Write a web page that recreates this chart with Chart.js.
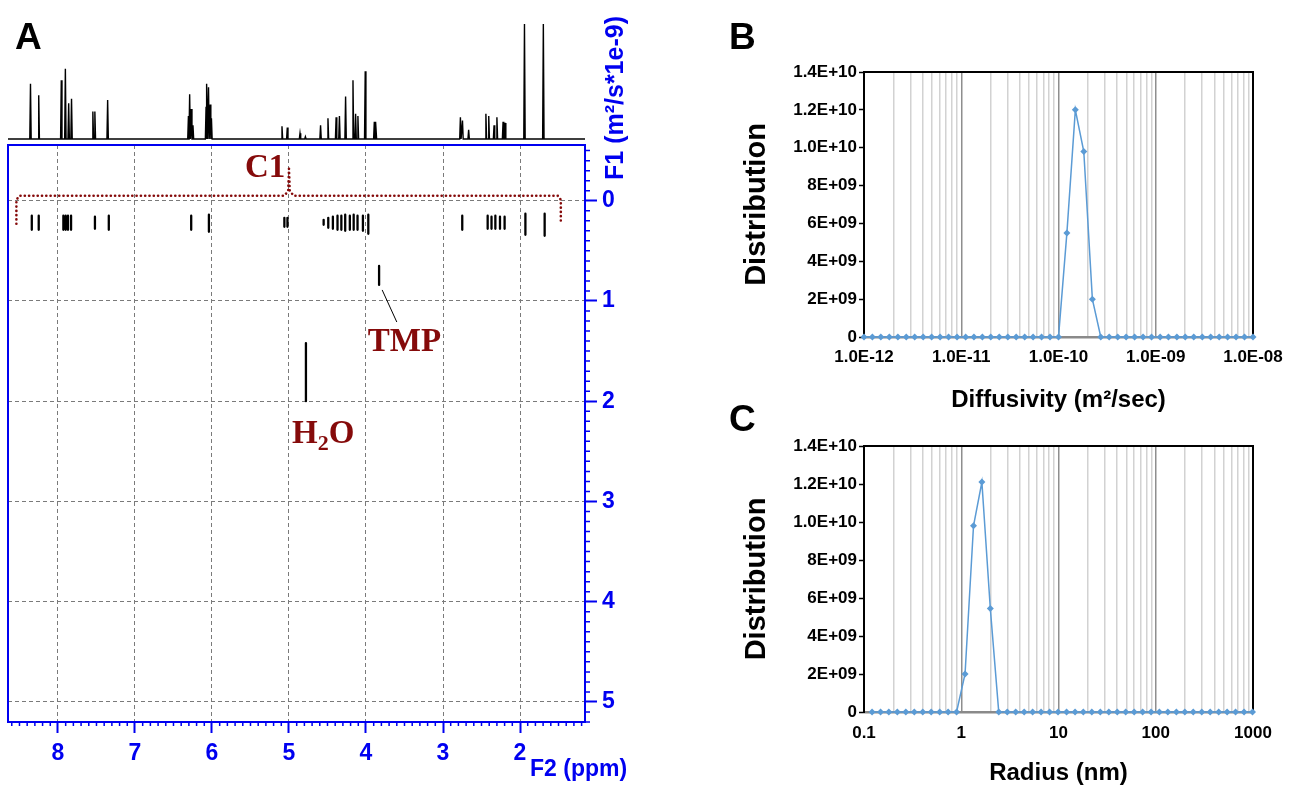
<!DOCTYPE html>
<html>
<head>
<meta charset="utf-8">
<title>DOSY spectrum, diffusivity and radius distributions</title>
<script src="https://cdn.jsdelivr.net/npm/chart.js@4.4.1/dist/chart.umd.min.js"></script>
<style>
  html, body { margin: 0; padding: 0; background: #fff; overflow: hidden; }
  #page { position: relative; width: 1294px; height: 785px; }
  canvas { position: absolute; }
  .panel { position: absolute; font: bold 37px "Liberation Sans", Arial, sans-serif; line-height: 1; color: #000; }
</style>
</head>
<body>
<div id="page">
  <canvas id="dosyChart" width="660" height="785" style="left:0;top:0"></canvas>
  <canvas id="specChart" width="660" height="145" style="left:0;top:0"></canvas>
  <canvas id="diffChart" width="564" height="380" style="left:730px;top:40px"></canvas>
  <canvas id="radiusChart" width="564" height="365" style="left:730px;top:420px"></canvas>
  <div class="panel" style="left:15px;top:18px">A</div>
  <div class="panel" style="left:729px;top:18px">B</div>
  <div class="panel" style="left:729px;top:400px">C</div>
</div>
<script>
// ---- panel A: 1H spectrum on top (ppm, relative height)
const specPpm = [8.357, 8.250, 7.957, 7.904, 7.861, 7.824, 7.547, 7.521, 7.355,
  6.306, 6.290, 6.269, 6.247, 6.077, 6.066, 6.045, 6.023, 6.007, 5.091, 5.022,
  4.857, 4.787, 4.590, 4.494, 4.388, 4.345, 4.265, 4.169, 4.135, 4.105, 4.010,
  3.892, 3.871, 2.774, 2.747, 2.667, 2.443, 2.406, 2.337, 2.300, 2.220, 2.193,
  1.942, 1.697];
const specHeight = [0.48, 0.38, 0.51, 0.61, 0.31, 0.35, 0.24, 0.24, 0.34,
  0.20, 0.39, 0.26, 0.12, 0.28, 0.48, 0.45, 0.30, 0.18, 0.11, 0.10,
  0.05, 0.02, 0.12, 0.18, 0.19, 0.20, 0.37, 0.51, 0.22, 0.20, 0.59,
  0.15, 0.15, 0.19, 0.16, 0.08, 0.22, 0.20, 0.12, 0.19, 0.15, 0.14,
  1.0, 1.0];

// ---- panel A: DOSY cross peaks (ppm, diffusion from / to, 1e-9 m2/s)
const dosyPpm = [8.34, 8.25, 7.93, 7.90, 7.87, 7.83, 7.52, 7.34, 6.27, 6.04, 5.06, 5.02,
  4.55, 4.49, 4.43, 4.37, 4.32, 4.27, 4.21, 4.16, 4.11, 4.04, 3.97,
  2.75, 2.42, 2.37, 2.32, 2.26, 2.20, 1.93, 1.68, 3.83, 4.78];
const dosyDFrom = [0.15, 0.15, 0.15, 0.15, 0.15, 0.15, 0.16, 0.15, 0.15, 0.14, 0.17, 0.17,
  0.19, 0.17, 0.16, 0.15, 0.15, 0.14, 0.15, 0.14, 0.15, 0.15, 0.14,
  0.15, 0.15, 0.16, 0.15, 0.16, 0.16, 0.13, 0.13, 0.65, 1.42];
const dosyDTo = [0.29, 0.29, 0.29, 0.29, 0.29, 0.29, 0.28, 0.29, 0.29, 0.31, 0.26, 0.26,
  0.24, 0.27, 0.28, 0.29, 0.29, 0.30, 0.29, 0.29, 0.29, 0.30, 0.33,
  0.29, 0.28, 0.28, 0.28, 0.28, 0.28, 0.34, 0.35, 0.84, 2.00];

// C1 bracket and TMP leader line (ppm, D)
const c1Ppm = [8.54, 8.54, 8.50, 5.06, 5.01, 5.00, 4.99, 4.94, 1.51, 1.47, 1.47];
const c1D   = [0.23, -0.01, -0.05, -0.05, -0.10, -0.32, -0.10, -0.05, -0.05, -0.01, 0.23];
const tmpLeaderPpm = [3.79, 3.60];
const tmpLeaderD = [0.89, 1.21];

// ---- panel B: diffusivity distribution
const diffusivity = [1.00e-12, 1.22e-12, 1.49e-12, 1.82e-12, 2.23e-12, 2.72e-12, 3.32e-12, 4.06e-12, 4.96e-12, 6.06e-12, 7.41e-12, 9.05e-12,
  1.11e-11, 1.35e-11, 1.65e-11, 2.01e-11, 2.46e-11, 3.01e-11, 3.67e-11, 4.49e-11, 5.48e-11, 6.70e-11, 8.18e-11,
  1.00e-10, 1.22e-10, 1.49e-10, 1.82e-10, 2.23e-10, 2.72e-10, 3.32e-10, 4.06e-10, 4.96e-10, 6.06e-10, 7.41e-10, 9.05e-10,
  1.11e-9, 1.35e-9, 1.65e-9, 2.01e-9, 2.46e-9, 3.01e-9, 3.67e-9, 4.49e-9, 5.48e-9, 6.70e-9, 8.18e-9, 1.00e-8];
const diffDist = [0, 0, 0, 0, 0, 0, 0, 0, 0, 0, 0, 0, 0, 0, 0, 0, 0, 0, 0, 0, 0, 0, 0, 0,
  5.5e9, 1.2e10, 9.8e9, 2.0e9,
  0, 0, 0, 0, 0, 0, 0, 0, 0, 0, 0, 0, 0, 0, 0, 0, 0, 0, 0];

// ---- panel C: radius distribution
const radius = [0.121, 0.148, 0.180, 0.220, 0.269, 0.329, 0.402, 0.491, 0.600, 0.733, 0.895,
  1.094, 1.337, 1.63, 1.99, 2.43, 2.97, 3.63, 4.44, 5.42, 6.62, 8.09, 9.89,
  12.1, 14.8, 18.0, 22.0, 26.9, 32.9, 40.2, 49.1, 60.0, 73.3, 89.5,
  109, 133, 163, 199, 243, 297, 363, 444, 542, 662, 809, 988];
const radiusDist = [0, 0, 0, 0, 0, 0, 0, 0, 0, 0, 0,
  2.0e9, 9.8e9, 1.21e10, 5.45e9,
  0, 0, 0, 0, 0, 0, 0, 0, 0, 0, 0, 0, 0, 0, 0, 0, 0, 0, 0, 0, 0, 0, 0, 0, 0, 0, 0, 0, 0, 0, 0];

// tick labels
const distTickLabels = ["0", "2E+09", "4E+09", "6E+09", "8E+09", "1.0E+10", "1.2E+10", "1.4E+10"];
const diffTickLabels = ["1.0E-12", "1.0E-11", "1.0E-10", "1.0E-09", "1.0E-08"];
const radiusTickLabels = ["0.1", "1", "10", "100", "1000"];

const BLUE = "#0000f0";
const RED = "#850a0a";
const sans = '"Liberation Sans", Arial, sans-serif';
const serif = '"Liberation Serif", "Times New Roman", serif';

const isWhole = (v) => Math.abs(v - Math.round(v)) < 1e-6;
const isDecade = (v) => isWhole(Math.log10(v));

// ticks every 0.1, labels only on whole numbers
const ppmTicks = [];
for (let i = 12; i <= 86; i++) ppmTicks.push(i / 10);
const dTicks = [];
for (let i = -5; i <= 52; i++) dTicks.push(i / 10);

function logTicks(fromExp, toExp) {
  const out = [];
  for (let e = fromExp; e < toExp; e++) {
    for (let m = 1; m <= 9; m++) out.push(m * Math.pow(10, e));
  }
  out.push(Math.pow(10, toExp));
  return out;
}

const noInteraction = { legend: { display: false }, tooltip: { enabled: false } };

// ---------------- panel A: 1D spectrum
const specPoints = [{ x: 8.649, y: 0 }];
specPpm.forEach((p, i) => {
  specPoints.push({ x: p + 0.009, y: 0 }, { x: p, y: specHeight[i] }, { x: p - 0.009, y: 0 });
});
specPoints.push({ x: 1.156, y: 0 });

new Chart(document.getElementById("specChart"), {
  type: "scatter",
  data: {
    datasets: [{ data: specPoints, showLine: true, borderColor: "#000", borderWidth: 1.4, pointRadius: 0, clip: false }]
  },
  options: {
    animation: false, responsive: false, events: [],
    layout: { padding: { left: 8, right: 75, top: 24, bottom: 6 } },
    plugins: noInteraction,
    scales: {
      x: { type: "linear", reverse: true, min: 1.156, max: 8.649, display: false },
      y: { type: "linear", min: 0, max: 1, display: false }
    }
  }
});

// ---------------- panel A: DOSY map
const blobPoints = [];
dosyPpm.forEach((p, i) => {
  blobPoints.push({ x: p, y: dosyDFrom[i] }, { x: p, y: dosyDTo[i] }, { x: p, y: null });
});
const c1Points = c1Ppm.map((p, i) => ({ x: p, y: c1D[i] }));
const tmpLeader = tmpLeaderPpm.map((p, i) => ({ x: p, y: tmpLeaderD[i] }));

const dosyDecor = {
  id: "dosyDecor",
  afterDraw(chart) {
    const { ctx, chartArea: a, scales: { x, y } } = chart;
    ctx.save();
    // minor ticks
    ctx.strokeStyle = BLUE;
    ctx.lineWidth = 1.5;
    ctx.beginPath();
    x.ticks.forEach((t) => {
      if (isWhole(t.value)) return;
      const px = x.getPixelForValue(t.value);
      ctx.moveTo(px, a.bottom);
      ctx.lineTo(px, a.bottom + 4);
    });
    y.ticks.forEach((t) => {
      if (isWhole(t.value)) return;
      const py = y.getPixelForValue(t.value);
      ctx.moveTo(a.right, py);
      ctx.lineTo(a.right + 5, py);
    });
    ctx.stroke();
    ctx.lineWidth = 2;
    ctx.strokeRect(a.left, a.top, a.right - a.left, a.bottom - a.top);

    // axis titles
    ctx.fillStyle = BLUE;
    ctx.font = "bold 23px " + sans;
    ctx.textBaseline = "middle";
    ctx.textAlign = "left";
    ctx.fillText("F2 (ppm)", a.right - 55, a.bottom + 48);
    ctx.save();
    ctx.translate(a.right + 31, 98);
    ctx.rotate(-Math.PI / 2);
    ctx.textAlign = "center";
    ctx.font = "bold 25px " + sans;
    ctx.fillText("F1 (m\u00b2/s*1e-9)", 0, 0);
    ctx.restore();

    // annotations
    ctx.fillStyle = RED;
    ctx.font = "bold 33px " + serif;
    ctx.textBaseline = "alphabetic";
    ctx.textAlign = "center";
    ctx.fillText("C1", x.getPixelForValue(5.31), y.getPixelForValue(-0.24));
    ctx.fillText("TMP", x.getPixelForValue(3.50), y.getPixelForValue(1.50));
    ctx.textAlign = "left";
    let hx = x.getPixelForValue(4.96);
    const hy = y.getPixelForValue(2.42);
    ctx.fillText("H", hx, hy);
    hx += ctx.measureText("H").width;
    ctx.font = "bold 22px " + serif;
    ctx.fillText("2", hx, hy + 7);
    hx += ctx.measureText("2").width;
    ctx.font = "bold 33px " + serif;
    ctx.fillText("O", hx, hy);
    ctx.restore();
  }
};

const dosyAxisFont = { family: sans, size: 23, weight: "bold" };
const majorOnly = (c) => c.tick && isWhole(c.tick.value);

new Chart(document.getElementById("dosyChart"), {
  type: "scatter",
  data: {
    datasets: [
      { data: blobPoints, showLine: true, spanGaps: false, borderColor: "#000", borderWidth: 2.3, borderCapStyle: "round", pointRadius: 0 },
      { data: c1Points, showLine: true, borderColor: RED, borderWidth: 2.6, borderDash: [0.1, 4.2], borderCapStyle: "round", pointRadius: 0 },
      { data: tmpLeader, showLine: true, borderColor: "#000", borderWidth: 1, pointRadius: 0 }
    ]
  },
  options: {
    animation: false, responsive: false, events: [],
    layout: { padding: { left: 8, right: 0, top: 145, bottom: 0 } },
    plugins: noInteraction,
    scales: {
      x: {
        type: "linear", reverse: true, min: 1.156, max: 8.649,
        afterBuildTicks: (s) => { s.ticks = ppmTicks.map((v) => ({ value: v })); },
        afterFit: (s) => { s.height = 63; },
        ticks: { autoSkip: false, maxRotation: 0, padding: 7, color: BLUE, font: dosyAxisFont,
          callback: (v) => (isWhole(v) ? String(Math.round(v)) : "") },
        grid: { color: "#7a7a7a", lineWidth: (c) => (majorOnly(c) ? 1 : 0), tickLength: 11, tickWidth: 2,
          tickColor: (c) => (majorOnly(c) ? BLUE : "rgba(0,0,0,0)") },
        border: { color: BLUE, width: 2, dash: [4, 3] }
      },
      y: {
        type: "linear", position: "right", reverse: true, min: -0.556, max: 5.2,
        afterBuildTicks: (s) => { s.ticks = dTicks.map((v) => ({ value: v })); },
        afterFit: (s) => { s.width = 75; },
        ticks: { autoSkip: false, padding: 5, color: BLUE, font: dosyAxisFont,
          callback: (v) => (isWhole(v) ? String(Math.round(v)) : "") },
        grid: { color: "#7a7a7a", lineWidth: (c) => (majorOnly(c) ? 1 : 0), tickLength: 12, tickWidth: 2,
          tickColor: (c) => (majorOnly(c) ? BLUE : "rgba(0,0,0,0)") },
        border: { color: BLUE, width: 2, dash: [4, 3] }
      }
    }
  },
  plugins: [dosyDecor]
});

// ---------------- panels B and C
const excelFrame = {
  id: "excelFrame",
  beforeDatasetsDraw(chart) {
    const { ctx, chartArea: a } = chart;
    ctx.save();
    ctx.strokeStyle = "#000";
    ctx.lineWidth = 2;
    ctx.beginPath();
    ctx.moveTo(a.left, a.top);
    ctx.lineTo(a.right, a.top);
    ctx.lineTo(a.right, a.bottom);
    ctx.stroke();
    ctx.restore();
  }
};

const tickFont = { family: sans, size: 17, weight: "bold" };
const xTitleFont = { family: sans, size: 24, weight: "bold", lineHeight: 1 };
const yTitleFont = { family: sans, size: 29, weight: "bold", lineHeight: 1 };

function distChart(id, xs, ys, cfg) {
  return new Chart(document.getElementById(id), {
    type: "scatter",
    data: {
      datasets: [{
        data: xs.map((v, i) => ({ x: v, y: ys[i] })),
        showLine: true, borderColor: "#5b9bd5", borderWidth: 1.5,
        pointStyle: "rectRot", pointRadius: 3.5, pointBackgroundColor: "#5b9bd5", pointBorderWidth: 0,
        clip: false
      }]
    },
    options: {
      animation: false, responsive: false, events: [],
      layout: { padding: { left: 0, right: 41, top: cfg.top, bottom: 0 } },
      plugins: noInteraction,
      scales: {
        x: {
          type: "logarithmic", min: cfg.min, max: cfg.max,
          afterBuildTicks: (s) => { s.ticks = cfg.ticks.map((v) => ({ value: v })); },
          afterFit: (s) => { s.height = cfg.axisHeight; },
          ticks: { autoSkip: false, maxRotation: 0, padding: cfg.labelPad, color: "#000", font: tickFont,
            callback: (v) => (isDecade(v) ? cfg.labels[Math.round(Math.log10(v / cfg.min))] : "") },
          grid: { drawTicks: false, lineWidth: 1.5,
            color: (c) => (c.tick && isDecade(c.tick.value) ? "#8e8e8e" : "#d2d2d2") },
          border: { color: "#8a8a8a", width: 2.5 },
          title: { display: true, text: cfg.title, color: "#000", font: xTitleFont, padding: { top: 0, bottom: cfg.titlePad } }
        },
        y: {
          type: "linear", min: 0, max: 1.4e10,
          afterFit: (s) => { s.width = 134; },
          ticks: { stepSize: 2e9, padding: 2, color: "#000", font: tickFont,
            callback: (v) => distTickLabels[Math.round(v / 2e9)] },
          grid: { drawOnChartArea: false, tickLength: 5, tickWidth: 1.5, tickColor: "#000", color: "#000" },
          border: { color: "#000", width: 2 },
          title: { display: true, text: "Distribution", color: "#000", font: yTitleFont, padding: { top: 12.5, bottom: 0 } }
        }
      }
    },
    plugins: [excelFrame]
  });
}

distChart("diffChart", diffusivity, diffDist, {
  min: 1e-12, max: 1e-8, ticks: logTicks(-12, -8), labels: diffTickLabels,
  title: "Diffusivity (m\u00b2/sec)", top: 32, axisHeight: 83, labelPad: 10, titlePad: 8
});

distChart("radiusChart", radius, radiusDist, {
  min: 0.1, max: 1000, ticks: logTicks(-1, 3), labels: radiusTickLabels,
  title: "Radius (nm)", top: 26, axisHeight: 73, labelPad: 11, titlePad: 0
});
</script>
</body>
</html>
